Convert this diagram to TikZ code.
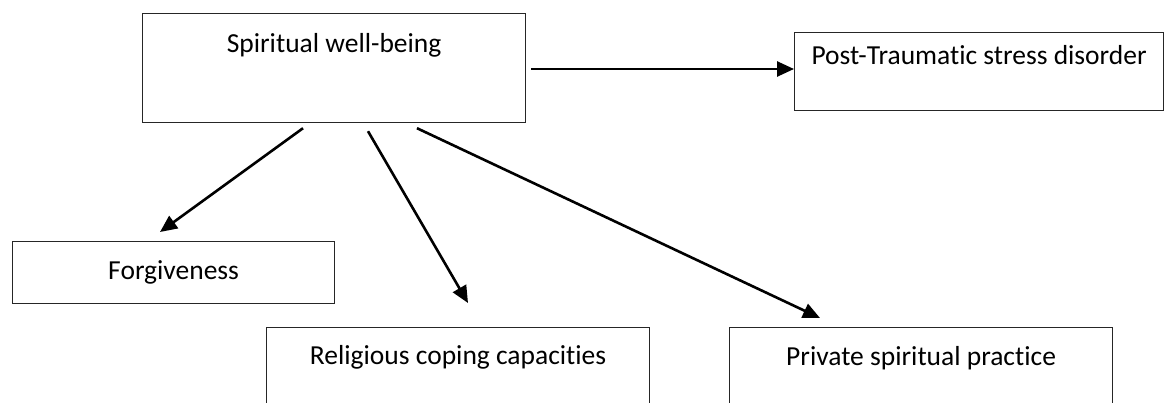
\documentclass[tikz,border=0pt]{standalone}
\usepackage{fontspec}
\setmainfont{Carlito}[Ligatures=NoCommon]
\usetikzlibrary{arrows.meta,calc}
\tikzset{
  box/.style={draw=black!85, line width=1.2pt, rectangle, inner sep=0pt, anchor=north west,
    font=\fontsize{27.5}{32}\selectfont, align=center},
  arr/.style={line width=2.6pt, -{Triangle[length=17pt,width=15pt]}}
}
\begin{document}
\begin{tikzpicture}[x=1pt,y=-1pt]
\clip (0,0) rectangle (1166,402);
\node[box, minimum width=383pt, text height=39pt, text depth=70pt] (sw) at (142,13) {Spiritual well-being};
\node[box, minimum width=369pt, text height=32pt, text depth=46pt] (ptsd) at (794,32) {Post-Traumatic stress disorder};
\node[box, minimum width=322pt, text height=38pt, text depth=24pt] (forg) at (12,241) {Forgiveness};
\node[box, minimum width=383pt, text height=37pt, text depth=56pt] (rel) at (266,327) {Religious coping capacities};
\node[box, minimum width=383pt, text height=38pt, text depth=55pt] (priv) at (729,327) {Private spiritual practice};
\coordinate (s1) at ($(sw.north east)+(5,56)$);
\draw[arr] (s1) -- (ptsd.west |- s1);
\draw[arr] ($(sw.south west)+(161,5)$) -- ($(forg.north west)+(148,-9)$);
\draw[arr] ($(sw.south west)+(226,8)$) -- ($(rel.north west)+(202,-24)$);
\draw[arr] ($(sw.south west)+(275,5)$) -- ($(priv.north west)+(91,-9)$);
\end{tikzpicture}
\end{document}
